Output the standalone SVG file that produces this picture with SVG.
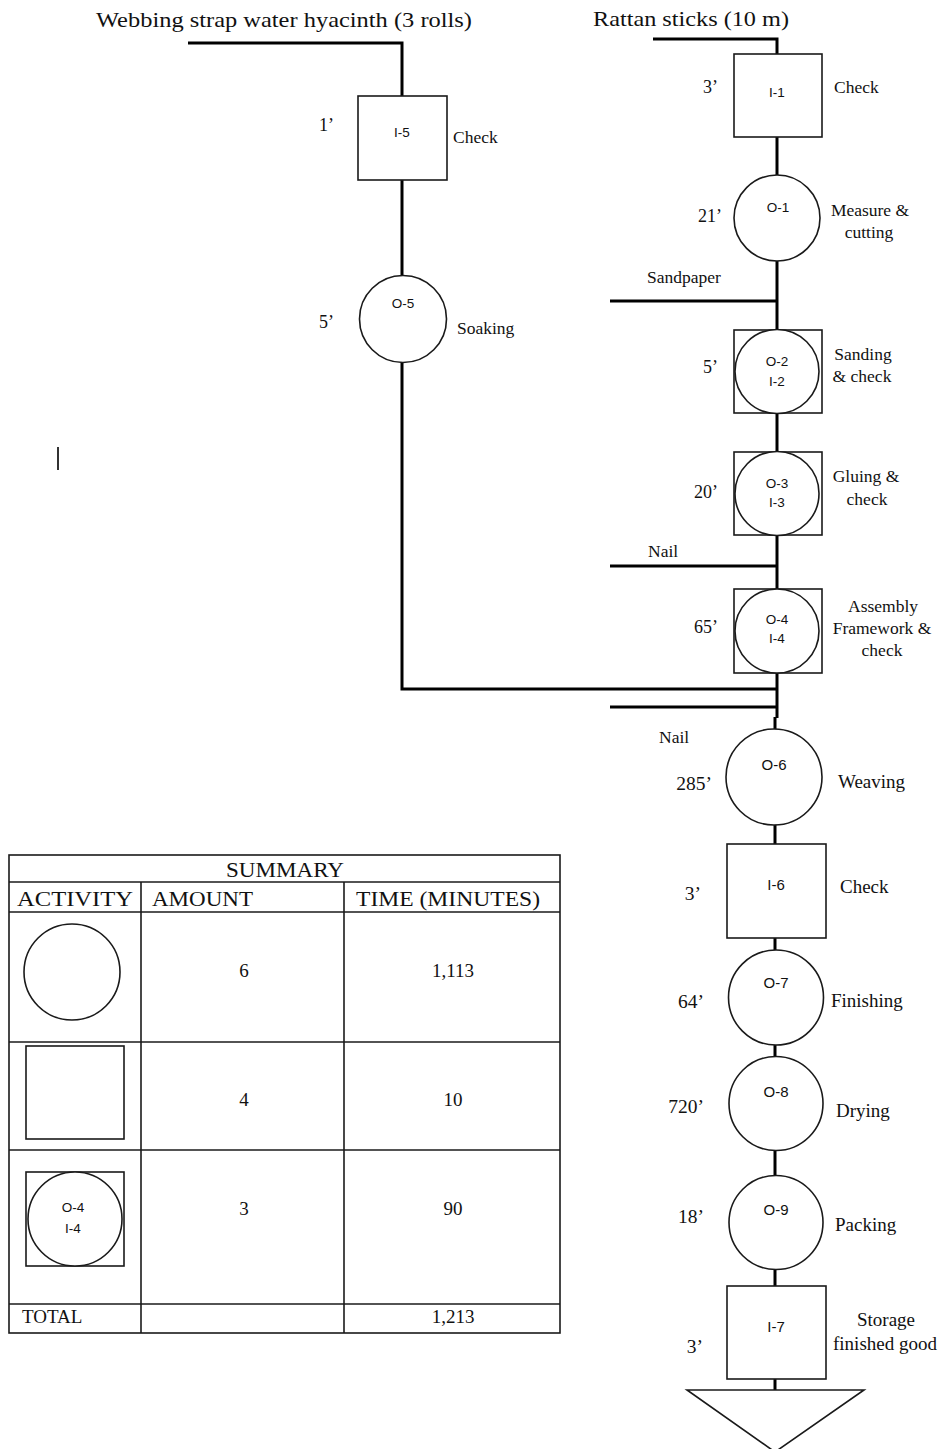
<svg xmlns="http://www.w3.org/2000/svg" width="944" height="1449" viewBox="0 0 944 1449">
  <style>
    .bg { fill: #ffffff; }
    .shape { fill: #ffffff; stroke: #1a1a1a; stroke-width: 1.6; }
    .flow { fill: none; stroke: #000000; stroke-width: 3; stroke-linecap: butt; stroke-linejoin: miter; }
    .grid { fill: none; stroke: #1a1a1a; stroke-width: 1.6; }
    .title { font-family: "Liberation Serif", "Times New Roman", serif; font-size: 22px; fill: #111; }
    .lbl { font-family: "Liberation Serif", "Times New Roman", serif; font-size: 17.5px; fill: #111; }
    .lbl2 { font-family: "Liberation Serif", "Times New Roman", serif; font-size: 19px; fill: #111; }
    .time { font-family: "Liberation Serif", "Times New Roman", serif; font-size: 18px; fill: #111; text-anchor: end; }
    .time2 { font-family: "Liberation Serif", "Times New Roman", serif; font-size: 19.5px; fill: #111; text-anchor: end; }
    .id { font-family: "Liberation Sans", Arial, sans-serif; font-size: 13.5px; fill: #111; text-anchor: middle; }
    .id2 { font-family: "Liberation Sans", Arial, sans-serif; font-size: 15px; fill: #111; text-anchor: middle; }
    .mid { text-anchor: middle; }
    .th { font-family: "Liberation Serif", "Times New Roman", serif; font-size: 22px; fill: #111; }
    .td { font-family: "Liberation Serif", "Times New Roman", serif; font-size: 19px; fill: #111; text-anchor: middle; }
  </style>

  <rect class="bg" x="0" y="0" width="944" height="1449"/>

  <!-- material inputs -->
  <text class="title" x="96" y="27" textLength="376" lengthAdjust="spacingAndGlyphs">Webbing strap water hyacinth (3 rolls)</text>
  <text class="title" x="593" y="26" textLength="196" lengthAdjust="spacingAndGlyphs">Rattan sticks (10 m)</text>
  <text class="lbl" x="647" y="283">Sandpaper</text>
  <text class="lbl" x="648" y="557">Nail</text>
  <text class="lbl" x="659" y="743">Nail</text>

  <!-- flow lines -->
  <g id="connectors">
    <polyline class="flow" points="188,43 402,43 402,96"/>
    <line class="flow" x1="402" y1="180" x2="402" y2="276"/>
    <polyline class="flow" points="402,362 402,689 777,689"/>

    <polyline class="flow" points="653,39 777,39 777,54"/>
    <line class="flow" x1="777" y1="137" x2="777" y2="175"/>
    <line class="flow" x1="777" y1="261" x2="777" y2="330"/>
    <line class="flow" x1="610" y1="301" x2="777" y2="301"/>
    <line class="flow" x1="777" y1="413" x2="777" y2="452"/>
    <line class="flow" x1="777" y1="535" x2="777" y2="589"/>
    <line class="flow" x1="610" y1="566" x2="777" y2="566"/>
    <line class="flow" x1="777" y1="673" x2="777" y2="718"/>
    <line class="flow" x1="610" y1="707" x2="777" y2="707"/>
    <line class="flow" x1="775" y1="717" x2="775" y2="731"/>
    <line class="flow" x1="775" y1="824" x2="775" y2="844"/>
    <line class="flow" x1="775" y1="938" x2="775" y2="950"/>
    <line class="flow" x1="775" y1="1045" x2="775" y2="1057"/>
    <line class="flow" x1="775" y1="1150" x2="775" y2="1176"/>
    <line class="flow" x1="775" y1="1269" x2="775" y2="1286"/>
    <line class="flow" x1="775" y1="1379" x2="775" y2="1390"/>
  </g>

  <!-- webbing strap branch -->
  <g id="I-5">
    <rect class="shape" x="358" y="96" width="89" height="84"/>
    <text class="id" x="402" y="137">I-5</text>
    <text class="time" x="334" y="131">1’</text>
    <text class="lbl" x="453" y="143">Check</text>
  </g>
  <g id="O-5">
    <circle class="shape" cx="403" cy="319" r="43.5"/>
    <text class="id" x="403" y="308">O-5</text>
    <text class="time" x="334" y="328">5’</text>
    <text class="lbl" x="457" y="334">Soaking</text>
  </g>

  <!-- rattan frame branch -->
  <g id="I-1">
    <rect class="shape" x="734" y="54" width="88" height="83"/>
    <text class="id" x="777" y="97">I-1</text>
    <text class="time" x="718" y="93">3’</text>
    <text class="lbl" x="834" y="93">Check</text>
  </g>
  <g id="O-1">
    <circle class="shape" cx="777" cy="218" r="43"/>
    <text class="id" x="778" y="212">O-1</text>
    <text class="time" x="722" y="222">21’</text>
    <text class="lbl mid" x="870" y="216">Measure &amp;</text>
    <text class="lbl mid" x="869" y="238">cutting</text>
  </g>
  <g id="O-2">
    <rect class="shape" x="734" y="330" width="88" height="83"/>
    <circle class="shape" cx="777" cy="371.5" r="42"/>
    <text class="id" x="777" y="366">O-2</text>
    <text class="id" x="777" y="386">I-2</text>
    <text class="time" x="718" y="373">5’</text>
    <text class="lbl mid" x="863" y="360">Sanding</text>
    <text class="lbl mid" x="862" y="382">&amp; check</text>
  </g>
  <g id="O-3">
    <rect class="shape" x="734" y="452" width="88" height="83"/>
    <circle class="shape" cx="777" cy="493.5" r="42"/>
    <text class="id" x="777" y="488">O-3</text>
    <text class="id" x="777" y="507">I-3</text>
    <text class="time" x="718" y="498">20’</text>
    <text class="lbl mid" x="866" y="482">Gluing &amp;</text>
    <text class="lbl mid" x="867" y="505">check</text>
  </g>
  <g id="O-4">
    <rect class="shape" x="734" y="589" width="88" height="84"/>
    <circle class="shape" cx="777" cy="631" r="42"/>
    <text class="id" x="777" y="624">O-4</text>
    <text class="id" x="777" y="643">I-4</text>
    <text class="time" x="718" y="633">65’</text>
    <text class="lbl mid" x="883" y="612">Assembly</text>
    <text class="lbl mid" x="882" y="634">Framework &amp;</text>
    <text class="lbl mid" x="882" y="656">check</text>
  </g>

  <!-- main assembly line -->
  <g id="O-6">
    <circle class="shape" cx="774" cy="777" r="48"/>
    <text class="id2" x="774" y="770">O-6</text>
    <text class="time2" x="712" y="790">285’</text>
    <text class="lbl2" x="838" y="788">Weaving</text>
  </g>
  <g id="I-6">
    <rect class="shape" x="727" y="844" width="99" height="94"/>
    <text class="id2" x="776" y="890">I-6</text>
    <text class="time2" x="701" y="900">3’</text>
    <text class="lbl2" x="840" y="893">Check</text>
  </g>
  <g id="O-7">
    <circle class="shape" cx="776" cy="997.5" r="47.5"/>
    <text class="id2" x="776" y="988">O-7</text>
    <text class="time2" x="704" y="1008">64’</text>
    <text class="lbl2" x="831" y="1007">Finishing</text>
  </g>
  <g id="O-8">
    <circle class="shape" cx="776" cy="1103.5" r="47"/>
    <text class="id2" x="776" y="1097">O-8</text>
    <text class="time2" x="704" y="1113">720’</text>
    <text class="lbl2" x="836" y="1117">Drying</text>
  </g>
  <g id="O-9">
    <circle class="shape" cx="776" cy="1222.5" r="47"/>
    <text class="id2" x="776" y="1215">O-9</text>
    <text class="time2" x="704" y="1223">18’</text>
    <text class="lbl2" x="835" y="1231">Packing</text>
  </g>
  <g id="I-7">
    <rect class="shape" x="727" y="1286" width="99" height="93"/>
    <text class="id2" x="776" y="1332">I-7</text>
    <text class="time2" x="703" y="1353">3’</text>
    <text class="lbl2 mid" x="886" y="1326">Storage</text>
    <text class="lbl2 mid" x="885" y="1350">finished good</text>
  </g>
  <g id="storage">
    <polygon class="shape" points="687,1390 864,1390 775,1452"/>
  </g>

  <!-- stray cursor mark -->
  <rect x="57" y="447" width="2" height="23" fill="#333"/>

  <!-- summary table -->
  <g id="summary">
    <rect class="grid" x="9" y="855" width="551" height="478"/>
    <line class="grid" x1="9" y1="882" x2="560" y2="882"/>
    <line class="grid" x1="9" y1="912" x2="560" y2="912"/>
    <line class="grid" x1="9" y1="1042" x2="560" y2="1042"/>
    <line class="grid" x1="9" y1="1150" x2="560" y2="1150"/>
    <line class="grid" x1="9" y1="1304" x2="560" y2="1304"/>
    <line class="grid" x1="141" y1="882" x2="141" y2="1333"/>
    <line class="grid" x1="344" y1="882" x2="344" y2="1333"/>

    <text class="th" x="226" y="877" textLength="118" lengthAdjust="spacingAndGlyphs">SUMMARY</text>
    <text class="th" x="17" y="906" textLength="116" lengthAdjust="spacingAndGlyphs">ACTIVITY</text>
    <text class="th" x="152" y="906" textLength="101" lengthAdjust="spacingAndGlyphs">AMOUNT</text>
    <text class="th" x="356" y="906" textLength="184" lengthAdjust="spacingAndGlyphs">TIME (MINUTES)</text>

    <circle class="shape" cx="72" cy="972" r="48"/>
    <text class="td" x="244" y="977">6</text>
    <text class="td" x="453" y="977">1,113</text>

    <rect class="shape" x="26" y="1046" width="98" height="93"/>
    <text class="td" x="244" y="1106">4</text>
    <text class="td" x="453" y="1106">10</text>

    <rect class="shape" x="26" y="1172" width="98" height="94"/>
    <circle class="shape" cx="75" cy="1219" r="47"/>
    <text class="id" x="73" y="1212">O-4</text>
    <text class="id" x="73" y="1233">I-4</text>
    <text class="td" x="244" y="1215">3</text>
    <text class="td" x="453" y="1215">90</text>

    <text class="td" x="22" y="1323" style="text-anchor:start">TOTAL</text>
    <text class="td" x="453" y="1323">1,213</text>
  </g>
</svg>
